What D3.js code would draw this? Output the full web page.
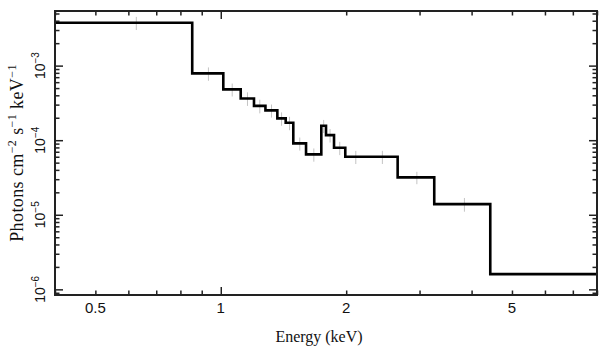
<!DOCTYPE html>
<html>
<head>
<meta charset="utf-8">
<script src="https://cdn.jsdelivr.net/npm/d3@7"></script>
<style>
  html, body { margin: 0; padding: 0; background: #fff; }
  svg { display: block; }
</style>
</head>
<body>
<svg id="chart" width="609" height="357"></svg>
<script>
// ---- data ----
// bin edges in keV (n+1 values)
const binEdges = [0.4, 0.854, 1.014, 1.1165, 1.2015, 1.280, 1.367, 1.4315, 1.493, 1.602,
                  1.743, 1.789, 1.870, 1.990, 2.228, 2.658, 3.254, 4.435, 12];
// photon flux per bin (photons cm^-2 s^-1 keV^-1)
const fluxValues = [3.75e-3, 7.86e-4, 4.80e-4, 3.63e-4, 2.89e-4, 2.51e-4, 1.96e-4, 1.71e-4, 9.06e-5,
                    6.45e-5, 1.56e-4, 1.17e-4, 7.91e-5, 5.99e-5, 6.0e-5, 3.17e-5, 1.39e-5, 1.60e-6];
// 1-sigma errors per bin
const fluxErrors = [7.5e-4, 1.6e-4, 9.5e-5, 7.5e-5, 6.0e-5, 5.0e-5, 4.0e-5, 3.5e-5, 1.8e-5,
                    1.3e-5, 3.1e-5, 2.4e-5, 1.6e-5, 1.2e-5, 1.2e-5, 6.0e-6, 2.9e-6, 3.5e-7];
// axis ticks
const xMajorTicks = [1];
const xMinorTicks = [0.4, 0.5, 0.6, 0.7, 0.8, 0.9, 2, 3, 4, 5, 6, 7, 8];
const xTickLabels = [0.5, 1, 2, 5];
const yMajorTicks = [1e-6, 1e-5, 1e-4, 1e-3];
const yMinorTicks = [9e-7,
  2e-6, 3e-6, 4e-6, 5e-6, 6e-6, 7e-6, 8e-6, 9e-6,
  2e-5, 3e-5, 4e-5, 5e-5, 6e-5, 7e-5, 8e-5, 9e-5,
  2e-4, 3e-4, 4e-4, 5e-4, 6e-4, 7e-4, 8e-4, 9e-4,
  2e-3, 3e-3, 4e-3, 5e-3];
const yTickLabels = [{v: 1e-6, e: "−6"}, {v: 1e-5, e: "−5"}, {v: 1e-4, e: "−4"}, {v: 1e-3, e: "−3"}];
const xTitle = "Energy (keV)";

// ---- layout ----
const L = 55, R = 597, T = 11, B = 295;
const svg = d3.select("#chart");

const x = d3.scaleLog().domain([0.4, 8]).range([L, R]);
const y = d3.scaleLog().domain([8.4e-7, 5.4e-3]).range([B, T]);

svg.append("defs").append("clipPath").attr("id", "clip")
  .append("rect").attr("x", L).attr("y", T).attr("width", R - L).attr("height", B - T);

const plot = svg.append("g").attr("clip-path", "url(#clip)");

// error bars
const bins = fluxValues.map((v, i) => ({
  x0: binEdges[i], x1: binEdges[i + 1], v: v, s: fluxErrors[i],
  xc: (binEdges[i] + binEdges[i + 1]) / 2
}));
plot.selectAll("line.eh").data(bins).join("line")
  .attr("x1", d => x(d.x0)).attr("x2", d => x(d.x1))
  .attr("y1", d => y(d.v)).attr("y2", d => y(d.v))
  .attr("stroke", "#c4c4c4").attr("stroke-width", 1);
plot.selectAll("line.ev").data(bins).join("line")
  .attr("x1", d => x(d.xc)).attr("x2", d => x(d.xc))
  .attr("y1", d => y(d.v - d.s)).attr("y2", d => y(d.v + d.s))
  .attr("stroke", "#c4c4c4").attr("stroke-width", 1);

// step line
const stepPts = binEdges.map((e, i) => [e, fluxValues[Math.min(i, fluxValues.length - 1)]]);
const line = d3.line().x(d => x(d[0])).y(d => y(d[1])).curve(d3.curveStepAfter);
plot.append("path").attr("d", line(stepPts))
  .attr("fill", "none").attr("stroke", "#000").attr("stroke-width", 2.6)
  .attr("stroke-linejoin", "miter");

// ---- axes ticks (inward) ----
const axisColor = "#222";
function styleAxis(g) {
  g.select(".domain").remove();
  g.selectAll(".tick line").attr("stroke", axisColor).attr("stroke-width", 1.5);
}
const fmtNone = () => "";
// bottom
svg.append("g").attr("transform", `translate(0,${B})`)
  .call(d3.axisBottom(x).tickValues(xMajorTicks).tickSize(-8).tickFormat(fmtNone)).call(styleAxis);
svg.append("g").attr("transform", `translate(0,${B})`)
  .call(d3.axisBottom(x).tickValues(xMinorTicks).tickSize(-4.5).tickFormat(fmtNone)).call(styleAxis);
// top
svg.append("g").attr("transform", `translate(0,${T})`)
  .call(d3.axisTop(x).tickValues(xMajorTicks).tickSize(-8).tickFormat(fmtNone)).call(styleAxis);
svg.append("g").attr("transform", `translate(0,${T})`)
  .call(d3.axisTop(x).tickValues(xMinorTicks).tickSize(-4.5).tickFormat(fmtNone)).call(styleAxis);
// left
svg.append("g").attr("transform", `translate(${L},0)`)
  .call(d3.axisLeft(y).tickValues(yMajorTicks).tickSize(-8).tickFormat(fmtNone)).call(styleAxis);
svg.append("g").attr("transform", `translate(${L},0)`)
  .call(d3.axisLeft(y).tickValues(yMinorTicks).tickSize(-4.5).tickFormat(fmtNone)).call(styleAxis);
// right
svg.append("g").attr("transform", `translate(${R},0)`)
  .call(d3.axisRight(y).tickValues(yMajorTicks).tickSize(-8).tickFormat(fmtNone)).call(styleAxis);
svg.append("g").attr("transform", `translate(${R},0)`)
  .call(d3.axisRight(y).tickValues(yMinorTicks).tickSize(-4.5).tickFormat(fmtNone)).call(styleAxis);

// frame
svg.append("rect").attr("x", L).attr("y", T).attr("width", R - L).attr("height", B - T)
  .attr("fill", "none").attr("stroke", axisColor).attr("stroke-width", 2);

// ---- tick labels ----
svg.append("g").selectAll("text").data(xTickLabels).join("text")
  .attr("x", d => x(d)).attr("y", 312.5)
  .attr("text-anchor", "middle")
  .attr("font-family", "'Liberation Sans', Arial, sans-serif")
  .attr("font-size", 15).attr("fill", "#111")
  .text(d => String(d));

const yl = svg.append("g").selectAll("text").data(yTickLabels).join("text")
  .attr("transform", d => `translate(45,${y(d.v)}) rotate(-90)`)
  .attr("text-anchor", "middle")
  .attr("font-family", "'Liberation Sans', Arial, sans-serif")
  .attr("font-size", 14).attr("fill", "#111");
yl.append("tspan").text("10");
yl.append("tspan").attr("font-size", 10).attr("dy", -6).text(d => d.e);

// ---- axis titles ----
svg.append("text").attr("x", 319).attr("y", 342)
  .attr("text-anchor", "middle")
  .attr("font-family", "'Liberation Serif', 'Times New Roman', serif")
  .attr("font-size", 16).attr("fill", "#111")
  .text(xTitle);

const yt = svg.append("text")
  .attr("transform", `translate(23,${(T + B) / 2}) rotate(-90)`)
  .attr("text-anchor", "middle")
  .attr("font-family", "'Liberation Serif', 'Times New Roman', serif")
  .attr("font-size", 18).attr("letter-spacing", 0.4).attr("fill", "#111");
yt.append("tspan").text("Photons cm");
yt.append("tspan").attr("font-size", 12).attr("dy", -7).text("−2");
yt.append("tspan").attr("dy", 7).text(" s");
yt.append("tspan").attr("font-size", 12).attr("dy", -7).text("−1");
yt.append("tspan").attr("dy", 7).text(" keV");
yt.append("tspan").attr("font-size", 12).attr("dy", -7).text("−1");
</script>
</body>
</html>
